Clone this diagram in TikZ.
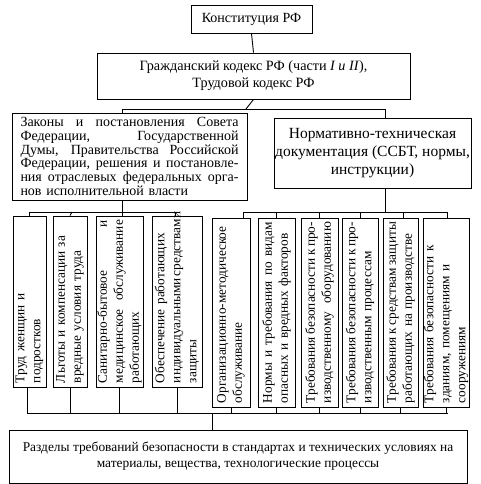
\documentclass[tikz,border=0pt]{standalone}
\usepackage{fontspec}
\setmainfont{Liberation Serif}
\newcommand{\jl}[2]{\leavevmode\hbox to #1pt{\spaceskip=.3333em plus 1fil minus .2em\relax #2}}
\begin{document}
\begin{tikzpicture}[x=1pt,y=-1pt,
  box/.style={draw, line width=0.9pt, inner sep=0pt, anchor=center, font=\fontsize{13.3}{16}\selectfont},
  vbox/.style={box, rotate=90, align=left},
  wire/.style={line width=0.9pt}]
\useasboundingbox (0,0) rectangle (480,484);
% top
\node[box, minimum width=121, minimum height=28, font=\fontsize{14}{16}\selectfont] (k) at (251.5,19) {Конституция РФ};
\node[box, minimum width=313, minimum height=46, align=center, font=\fontsize{14.2}{17}\selectfont] (g) at (253.5,76)
  {Гражданский кодекс РФ (части \textit{I и II}),\\Трудовой кодекс РФ};
\node[box, minimum width=235, minimum height=87, text width=218, align=left, font=\fontsize{14}{13.8}\selectfont] (z) at (129.5,156.5)
  {\jl{218}{Законы и постановления Совета}\\\jl{218}{Федерации, Государственной}\\\jl{218}{Думы, Правительства Российской}\\\jl{218}{Федерации, решения и постановле-}\\\jl{218}{ния отраслевых федеральных орга-}\\нов исполнительной власти};
\node[box, minimum width=197, minimum height=70, align=center, font=\fontsize{15.5}{17.8}\selectfont] (n) at (372.5,153)
  {Нормативно-техническая\\документация (ССБТ, нормы,\\инструкции)};
% left vertical boxes
\node[vbox, minimum width=171, minimum height=33, text width=163] (b1) at (29.5,301.5)
  {Труд женщин и\\подростков};
\node[vbox, minimum width=171, minimum height=34, text width=163] (b2) at (70,301.5)
  {Льготы и компенсации за\\вредные условия труда};
\node[vbox, minimum width=171, minimum height=47, text width=163] (b3) at (119.5,301.5)
  {\jl{163}{Санитарно-бытовое и}\\\jl{163}{медицинское обслуживание}\\работающих};
\node[vbox, minimum width=171, minimum height=50, text width=163] (b4) at (177,301.5)
  {\jl{150}{Обеспечение работающих}\\\jl{163}{индивидуальными средствами}\\защиты};
% right vertical boxes
\node[vbox, minimum width=189, minimum height=38, text width=181] (b5) at (231,312.5)
  {\jl{181}{Организационно-методическое}\\обслуживание};
\node[vbox, minimum width=189, minimum height=37, text width=181] (b6) at (276.5,312.5)
  {\jl{181}{Нормы и требования по видам}\\опасных и вредных факторов};
\node[vbox, minimum width=189, minimum height=37, text width=181] (b7) at (319.5,312.5)
  {\jl{181}{Требования безопасности к про-}\\\jl{181}{изводственному оборудованию}};
\node[vbox, minimum width=189, minimum height=36, text width=181] (b8) at (360,312.5)
  {\jl{181}{Требования безопасности к про-}\\изводственным процессам};
\node[vbox, minimum width=189, minimum height=35, text width=181] (b9) at (400.5,312.5)
  {\jl{181}{Требования к средствам защиты}\\работающих на производстве};
\node[vbox, minimum width=189, minimum height=46, text width=181] (b10) at (446,312.5)
  {Требования безопасности к\\зданиям, помещениям и\\сооружениям};
% bottom
\node[box, minimum width=458, minimum height=53, align=center, font=\fontsize{13.4}{16}\selectfont] (r) at (238,456.5)
  {Разделы требований безопасности в стандартах и технических условиях на\\материалы, вещества, технологические процессы};
% junction coordinates
\coordinate (t1) at (246,109);
\coordinate (t1l) at (122,109);
\coordinate (t1r) at (385,109);
\coordinate (lz) at (122,212);
\coordinate (lzl) at (29,212);
\coordinate (lzr) at (175,212);
\coordinate (rn) at (385,212);
\coordinate (rnl) at (243,212);
\coordinate (rnr) at (447,212);
\coordinate (jb) at (212,413);
\coordinate (jbl) at (27,413);
\coordinate (jbr) at (448,413);
% connectors
\draw[wire] (k.south) -- (g.north);
\draw[wire] (g.south) -- (t1);
\draw[wire] (t1l) -- (t1r);
\draw[wire] (t1l) -- (t1l |- z.north);
\draw[wire] (t1r) -- (t1r |- n.north);
\draw[wire] (lz |- z.south) -- (lz);
\draw[wire] (lzl) -- (lzr);
\draw[wire] (lzl) -- (lzl |- b1.east);
\draw[wire] (72,212) -- (b2.east);
\draw[wire] (lz) -- (lz |- b3.east);
\draw[wire] (lzr) -- (lzr |- b4.east);
\draw[wire] (rn |- n.south) -- (rn);
\draw[wire] (rnl) -- (rnr);
\draw[wire] (rnl) -- (rnl |- b5.east);
\draw[wire] (b6.east) -- (b6.east |- rn);
\draw[wire] (b7.east) -- (b7.east |- rn);
\draw[wire] (b8.east) -- (b8.east |- rn);
\draw[wire] (403,212) -- (403,218);
\draw[wire] (rnr) -- (rnr |- b10.east);
% bottom buses
\draw[wire] (jbl) -- (jbr);
\draw[wire] (jbl |- b1.west) -- (jbl);
\draw[wire] (b2.west) -- (b2.west |- jb);
\draw[wire] (b3.west) -- (b3.west |- jb);
\draw[wire] (b4.west) -- (b4.west |- jb);
\draw[wire] (b5.west) -- (b5.west |- jb);
\draw[wire] (b6.west) -- (b6.west |- jb);
\draw[wire] (b7.west) -- (b7.west |- jb);
\draw[wire] (b8.west) -- (b8.west |- jb);
\draw[wire] (b9.west) -- (b9.west |- jb);
\draw[wire] (b10.west) -- (b10.west |- jb);
\draw[wire] (jb) -- (jb |- r.north);
\end{tikzpicture}
\end{document}
